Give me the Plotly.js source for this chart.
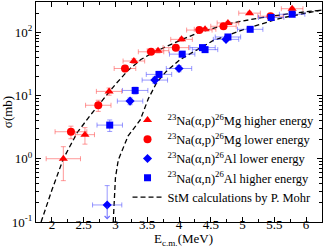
<!DOCTYPE html>
<html>
<head>
<meta charset="utf-8">
<script src="https://cdn.plot.ly/plotly-3.0.1.min.js"></script>
<style>html,body{margin:0;padding:0;background:#fff;}#chart{width:323px;height:249px;}</style>
</head>
<body>
<div id="chart"></div>
<script>
// (α,p) higher energy — triangles
const pHighX = [2.18, 2.52, 2.90, 3.29, 3.67, 4.04, 4.41, 4.77, 5.11, 5.78];
const pHighY = [1.0, 2.4, 11.6, 35, 51, 77, 111, 140, 200, 235];
const pHighXErr = [0.27, 0.15, 0.2, 0.17, 0.17, 0.17, 0.17, 0.17, 0.17, 0.17];
const pHighYErr = [0.55, 0.7, 1.5, 3, 4, 5, 6, 7, 10, 12];
// (α,p) lower energy — circles
const pLowX = [2.30, 2.73, 3.15, 3.56, 3.95, 4.32, 4.70, 5.44];
const pLowY = [2.67, 7.0, 26.7, 49, 57, 108, 124, 179];
const pLowXErr = [0.25, 0.2, 0.17, 0.2, 0.2, 0.2, 0.2, 0.2];
const pLowYErr = [0.6, 1.4, 3, 4, 5, 6, 7, 10];
// (α,n) lower energy — diamonds
const nLowX = [2.87, 3.23, 3.62, 4.00, 4.74];
const nLowY = [0.186, 8.15, 17.5, 26.7, 77];
const nLowXErr = [0.23, 0.2, 0.2, 0.2, 0.2];
const nLowYErrPlus = [0.19, 1.0, 2, 3, 5];
const nLowYErrMinus = [0, 1.0, 2, 3, 5];
// (α,n) higher energy — squares
const nHighX = [2.91, 3.31, 3.685, 4.05, 4.37, 4.41, 4.77, 5.12, 5.45, 5.78];
const nHighY = [3.4, 12, 21.5, 45, 57, 53, 84, 111, 171, 192];
const nHighXErr = [0.2, 0.2, 0.2, 0.2, 0.2, 0.2, 0.2, 0.2, 0.2, 0.2];
const nHighYErr = [0.7, 1.5, 2.5, 4, 5, 5, 6, 7, 9, 10];
// StM calculations
const stmPX = [1.83, 2.0, 2.18, 2.4, 2.6, 2.8, 3.0, 3.2, 3.4, 3.6, 3.8, 4.0, 4.3, 4.8, 5.3, 5.8, 6.25];
const stmPY = [0.1, 0.32, 1.0, 2.6, 4.8, 8.5, 15, 25, 37, 48, 60, 73, 98, 138, 170, 200, 224];
const stmNX = [2.965, 2.98, 3.0, 3.045, 3.2, 3.39, 3.52, 3.65, 3.8, 4.02, 4.54, 5.07, 5.59, 6.25];
const stmNY = [0.1, 0.25, 0.5, 0.96, 2.3, 4.1, 9, 16, 24, 37, 74, 115, 166, 224];
// upper-limit arrow
const limitX = 2.87, limitTop = 0.186, limitBottom = 0.11;

const yTickVals = [0.1, 1, 10, 100];
const yTickText = ['10<sup>-1</sup>', '10<sup>0</sup>', '10<sup>1</sup>', '10<sup>2</sup>'];
const yMinor = [0.2,0.3,0.4,0.5,0.6,0.7,0.8,0.9,2,3,4,5,6,7,8,9,20,30,40,50,60,70,80,90,200,300];

const red = '#ff0000', blue = '#0000ff';
const redErr = 'rgba(255,70,70,0.55)', blueErr = 'rgba(70,70,255,0.55)';
function errs(arr, color){ return {type:'data', array:arr, visible:true, color:color, thickness:1, width:2.5}; }

const traces = [
  {x: stmPX, y: stmPY, mode:'lines', line:{color:'black', width:1.3, dash:'5px,3px'}, name:'StM calculations by P. Mohr', legendrank:5, hoverinfo:'skip'},
  {x: stmNX, y: stmNY, mode:'lines', line:{color:'black', width:1.3, dash:'5px,3px'}, showlegend:false, hoverinfo:'skip'},
  {x: pHighX, y: pHighY, mode:'markers', marker:{symbol:'triangle-up', size:8, color:red},
   error_x: errs(pHighXErr, redErr), error_y: errs(pHighYErr, redErr),
   name:'<sup>23</sup>Na(α,p)<sup>26</sup>Mg higher energy', legendrank:1},
  {x: pLowX, y: pLowY, mode:'markers', marker:{symbol:'circle', size:8, color:red},
   error_x: errs(pLowXErr, redErr), error_y: errs(pLowYErr, redErr),
   name:'<sup>23</sup>Na(α,p)<sup>26</sup>Mg lower energy', legendrank:2},
  {x: nLowX, y: nLowY, mode:'markers', marker:{symbol:'diamond', size:7, color:blue},
   error_x: errs(nLowXErr, blueErr),
   error_y: {type:'data', symmetric:false, array:nLowYErrPlus, arrayminus:nLowYErrMinus, visible:true, color:blueErr, thickness:1, width:2.5},
   name:'<sup>23</sup>Na(α,n)<sup>26</sup>Al lower energy', legendrank:3},
  {x: nHighX, y: nHighY, mode:'markers', marker:{symbol:'square', size:7, color:blue},
   error_x: errs(nHighXErr, blueErr), error_y: errs(nHighYErr, blueErr),
   name:'<sup>23</sup>Na(α,n)<sup>26</sup>Al higher energy', legendrank:4}
];

const axisCommon = {showline:true, linecolor:'black', linewidth:1, mirror:'allticks', ticks:'inside', ticklen:5, tickcolor:'black', showgrid:false, zeroline:false, tickfont:{family:'Liberation Serif', size:13, color:'black'}};

const layout = {
  width:323, height:249,
  margin:{l:36, r:1, t:2, b:27},
  paper_bgcolor:'white', plot_bgcolor:'white',
  font:{family:'Liberation Serif', color:'black'},
  showlegend:true,
  legend:{x:0.32, y:0.53, xanchor:'left', yanchor:'top', bgcolor:'rgba(0,0,0,0)', borderwidth:0,
          font:{family:'Liberation Serif', size:12.5, color:'black'}, itemwidth:30, tracegroupgap:0},
  xaxis: Object.assign({}, axisCommon, {range:[1.75, 6.25], tick0:0, dtick:0.5, ticklabelstandoff:-10,
          minor:{dtick:0.25, ticks:'inside', ticklen:3, tickcolor:'black'}}),
  yaxis: Object.assign({}, axisCommon, {type:'log', range:[-1, Math.log10(300)], tickvals:yTickVals, ticktext:yTickText,
          minor:{tickvals:yMinor, ticks:'inside', ticklen:3, tickcolor:'black'},
          title:{text:'σ(mb)', font:{family:'Liberation Serif', size:13}, standoff:2}}),
  annotations:[
    {x:limitX, y:Math.log10(limitBottom), ax:limitX, ay:Math.log10(limitTop), xref:'x', yref:'y', axref:'x', ayref:'y',
     showarrow:true, arrowhead:4, arrowsize:1, arrowwidth:1, arrowcolor:'rgba(60,60,255,0.75)', text:''},
    {x:0.514, y:-0.128, xref:'paper', yref:'paper', xanchor:'center', yanchor:'bottom', showarrow:false,
     text:'E<sub>c.m.</sub>(MeV)', font:{family:'Liberation Serif', size:13, color:'black'}}
  ]
};

Plotly.newPlot('chart', traces, layout, {displayModeBar:false, staticPlot:true});
</script>
</body>
</html>
